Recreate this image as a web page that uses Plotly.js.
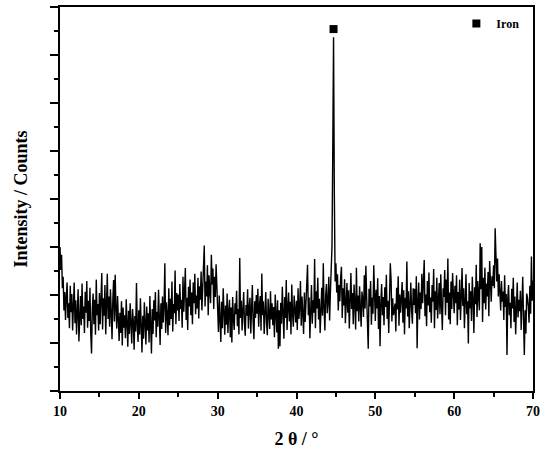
<!DOCTYPE html>
<html>
<head>
<meta charset="utf-8">
<script src="https://cdn.plot.ly/plotly-3.0.1.min.js"></script>
<style>
  html, body { margin: 0; padding: 0; background: #fff; }
  #graph { width: 550px; height: 456px; }
</style>
</head>
<body>
<div id="graph"></div>
<script>
// scan settings: 10..70 deg, 0.1 deg per step
var startAngle = 10;
var stepAngle = 0.1;

// intensities, 5 deg per block
var seg10 = [300,252,284,214,238,168,206,148,197,226,
             152,183,131,219,164,202,126,177,226,141,
             189,118,171,212,103,160,198,137,224,150,
             176,121,207,163,229,132,188,146,215,120,
             78,172,203,139,190,117,232,158,181,126];
var seg15 = [204,139,176,246,128,193,157,221,118,185,
             244,150,197,134,212,166,108,189,231,145,
             242,171,130,198,152,104,163,121,187,95,
             174,132,158,110,191,142,92,167,119,183,
             137,99,171,145,86,156,124,225,138,102];
var seg20 = [168,118,193,131,80,157,109,185,142,97,
             176,126,162,101,198,138,78,171,119,189,
             147,206,112,165,134,211,152,96,183,129,
             197,143,177,266,121,185,158,116,214,137,
             192,150,228,124,181,162,251,139,204,168];
var seg25 = [201,146,223,171,190,132,238,165,210,256,
             148,194,127,217,176,232,158,205,139,226,
             183,244,160,199,172,236,151,218,190,249,
             168,211,235,303,176,228,197,262,158,241,
             209,183,284,222,255,171,238,196,264,205];
var seg30 = [168,123,199,142,102,186,131,214,156,117,
             178,138,203,121,165,190,112,174,101,196,
             149,127,183,160,209,135,171,118,277,152,
             188,126,168,206,141,115,179,157,212,130,
             174,194,120,163,221,145,108,187,152,200];
var seg35 = [161,213,134,178,198,126,245,158,187,119,
             171,206,143,116,192,165,129,208,149,183,
             137,175,112,201,156,122,189,88,168,93,
             184,140,217,163,109,196,152,231,127,174,
             205,145,186,118,222,160,134,199,171,143];
var seg40 = [188,127,214,150,172,229,136,197,161,119,
             205,144,183,230,263,158,195,110,176,221,
             140,189,163,275,131,208,172,236,149,192,
             121,180,215,157,266,174,126,199,223,162,
             185,238,147,206,252,300,498,737,412,228];
var seg45 = [266,205,243,168,221,187,236,259,152,214,
             178,233,141,198,225,163,210,130,187,246,
             171,204,139,222,183,128,257,166,199,145,
             218,176,134,207,190,154,241,172,261,197,
             150,88,213,176,229,138,195,161,262,180];
var seg50 = [146,211,172,235,129,198,93,184,223,158,
             196,137,216,175,242,150,188,121,207,266,
             231,145,193,158,168,182,124,215,170,239,
             136,201,163,185,227,142,210,118,194,172,
             270,155,208,131,189,226,167,140,214,179];
var seg55 = [213,162,239,89,187,226,149,205,171,244,
             183,218,273,156,201,135,229,178,247,164,
             195,142,221,186,254,131,208,169,236,151,
             190,225,160,243,177,127,214,196,252,158,
             232,184,276,149,205,139,228,171,246,188];
var seg60 = [162,219,183,241,137,206,170,232,148,195,
             256,177,214,131,199,243,160,187,99,225,
             172,208,146,238,190,121,216,181,263,154,
             229,195,168,308,212,300,144,236,183,257,
             170,224,197,248,156,271,205,186,239,219];
var seg65 = [262,214,339,251,228,276,197,243,212,168,
             229,186,207,148,241,175,202,75,193,221,
             158,184,131,213,172,236,144,197,118,182,
             226,153,190,166,209,127,181,238,149,75,
             168,120,203,194,176,142,219,161,280,188,
             230];

// iron reflection marker
var ironAngle = [44.7];
var ironIntensity = [754];

var intensity = [].concat(seg10, seg15, seg20, seg25, seg30, seg35,
                          seg40, seg45, seg50, seg55, seg60, seg65);
var twoTheta = intensity.map(function(v, i) {
    return +(startAngle + i * stepAngle).toFixed(1);
});

var serif = '"Liberation Serif", "Times New Roman", serif';

var traces = [{
    x: twoTheta,
    y: intensity,
    type: 'scatter',
    mode: 'lines',
    line: {color: '#000', width: 1.4},
    showlegend: false,
    hoverinfo: 'skip'
}, {
    x: ironAngle,
    y: ironIntensity,
    type: 'scatter',
    mode: 'markers',
    name: 'Iron',
    marker: {symbol: 'square', size: 8, color: '#000'}
}];

var axisCommon = {
    showline: true,
    linecolor: '#000',
    linewidth: 2,
    mirror: true,
    showgrid: false,
    zeroline: false,
    ticks: 'outside',
    tickcolor: '#000',
    tickwidth: 2
};

var layout = {
    width: 550,
    height: 456,
    margin: {l: 60, r: 17, t: 7, b: 65},
    paper_bgcolor: '#fff',
    plot_bgcolor: '#fff',
    font: {family: serif, color: '#000'},
    xaxis: Object.assign({}, axisCommon, {
        range: [10, 70],
        tick0: 10,
        dtick: 10,
        ticklen: 6,
        minor: {dtick: 5, ticks: 'outside', ticklen: 4, tickcolor: '#000', tickwidth: 2},
        tickfont: {family: serif, size: 14, weight: 'bold', color: '#000'},
        title: {text: '2 θ / °', standoff: 15,
                font: {family: serif, size: 18, weight: 'bold', color: '#000'}}
    }),
    yaxis: Object.assign({}, axisCommon, {
        range: [0, 800],
        tick0: 0,
        dtick: 100,
        ticklen: 8,
        showticklabels: false,
        minor: {dtick: 50, ticks: 'outside', ticklen: 4, tickcolor: '#000', tickwidth: 2},
        title: {text: 'Intensity / Counts', standoff: 18,
                font: {family: serif, size: 18, weight: 'bold', color: '#000'}}
    }),
    showlegend: true,
    legend: {
        x: 0.838, xanchor: 'left',
        y: 0.995, yanchor: 'top',
        bgcolor: 'rgba(0,0,0,0)',
        font: {family: serif, size: 12, weight: 'bold', color: '#000'}
    }
};

Plotly.newPlot('graph', traces, layout, {displayModeBar: false, staticPlot: true});
</script>
</body>
</html>
